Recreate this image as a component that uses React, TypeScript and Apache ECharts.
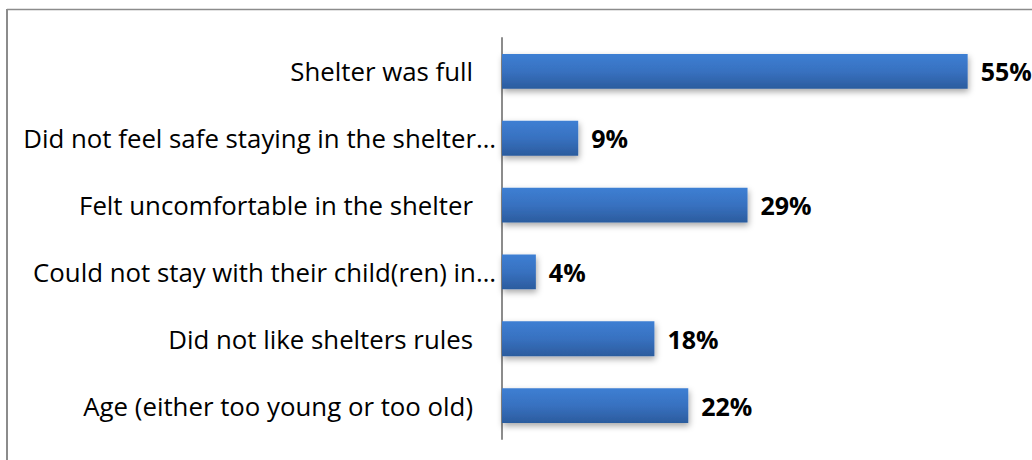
import React, { useEffect, useRef } from "react";
import * as echarts from "echarts";

const categories = [
  "Shelter was full",
  "Did not feel safe staying in the shelter…",
  "Felt uncomfortable in the shelter",
  "Could not stay with their child(ren) in…",
  "Did not like shelters rules",
  "Age (either too young or too old)",
];
const values = [55, 9, 29, 4, 18, 22];

export default function App() {
  const ref = useRef<HTMLDivElement>(null);
  useEffect(() => {
    document.body.style.margin = "0";
    const chart = echarts.init(ref.current!, undefined, { renderer: "svg" });
    const font = "'Open Sans', Calibri, sans-serif";
    chart.setOption({
      animation: false,
      backgroundColor: "#ffffff",
      graphic: [
        { type: "line", shape: { x1: 7, y1: 9.5, x2: 1040, y2: 9.5 }, style: { stroke: "#8c8c8c", lineWidth: 1.5 } },
        { type: "line", shape: { x1: 7, y1: 9, x2: 7, y2: 470 }, style: { stroke: "#8c8c8c", lineWidth: 2 } },
      ],
      grid: { left: 502, right: 22, top: 38, bottom: 21, containLabel: false },
      xAxis: {
        type: "value",
        min: 0,
        max: 60,
        show: false,
      },
      yAxis: {
        type: "category",
        data: categories,
        inverse: true,
        axisLine: { show: true, lineStyle: { color: "#8c8c8c", width: 2 } },
        axisTick: { show: false },
        axisLabel: {
          margin: 6,
          fontFamily: font,
          fontSize: 25.8,
          color: "#000",
          formatter: (v: string) => (v.endsWith("…") ? `{e|${v}}` : `{n|${v}}`),
          rich: {
            e: { fontFamily: font, fontSize: 25.8, color: "#000" },
            n: { fontFamily: font, fontSize: 25.8, color: "#000", padding: [0, 23, 0, 0] },
          },
        },
      },
      series: [
        {
          type: "bar",
          data: values,
          barCategoryGap: "48%",
          itemStyle: {
            color: new echarts.graphic.LinearGradient(0, 0, 0, 1, [
              { offset: 0, color: "#3d7fd3" },
              { offset: 0.5, color: "#3871c0" },
              { offset: 1, color: "#2b5c9e" },
            ]),
            shadowColor: "rgba(0,0,0,0.35)",
            shadowBlur: 6,
            shadowOffsetY: 3,
            shadowOffsetX: 1,
          },
          label: {
            show: true,
            position: "right",
            distance: 13,
            formatter: "{c}%",
            fontFamily: font,
            fontWeight: "bold",
            fontSize: 25,
            color: "#000",
          },
        },
      ],
    });
    return () => chart.dispose();
  }, []);
  return <div ref={ref} style={{ position: "absolute", left: 0, top: 0, width: 1032, height: 460 }} />;
}
